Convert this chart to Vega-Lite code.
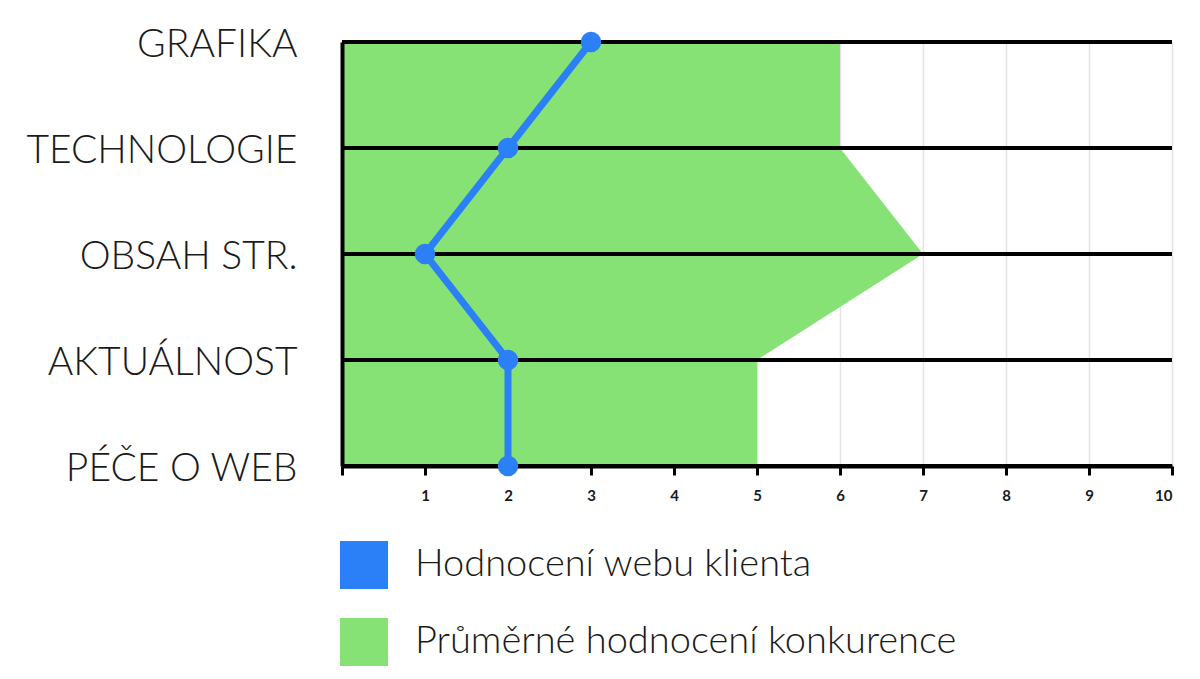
{
  "$schema": "https://vega.github.io/schema/vega-lite/v6.json",
  "autosize": {"type": "none"},
  "padding": {"left": 342, "top": 42, "right": 28, "bottom": 213},
  "width": 830,
  "height": 424,
  "background": "white",
  "config": {"view": {"stroke": null}, "font": "Lato"},
  "data": {
    "values": [
      {"kategorie": "GRAFIKA", "rank": 4, "klient": 3, "konkurence": 6},
      {"kategorie": "TECHNOLOGIE", "rank": 3, "klient": 2, "konkurence": 6},
      {"kategorie": "OBSAH STR.", "rank": 2, "klient": 1, "konkurence": 7},
      {"kategorie": "AKTUÁLNOST", "rank": 1, "klient": 2, "konkurence": 5},
      {"kategorie": "PÉČE O WEB", "rank": 0, "klient": 2, "konkurence": 5}
    ]
  },
  "encoding": {
    "y": {
      "field": "rank",
      "type": "quantitative",
      "scale": {"domain": [0, 4], "nice": false, "zero": false},
      "axis": {
        "title": null,
        "values": [0, 1, 2, 3, 4],
        "labelExpr": "['PÉČE O WEB','AKTUÁLNOST','OBSAH STR.','TECHNOLOGIE','GRAFIKA'][datum.value]",
        "labelFont": "Lato",
        "labelFontWeight": 300,
        "labelFontSize": 39,
        "labelColor": "#1a1a1a",
        "labelPadding": 45,
        "labelBaseline": "middle",
        "labelOffset": 2,
        "labelLimit": 400,
        "ticks": false,
        "grid": false,
        "domain": true,
        "domainColor": "black",
        "domainWidth": 4,
        "zindex": 1
      }
    }
  },
  "layer": [
    {
      "mark": {"type": "area", "orient": "horizontal", "opacity": 1},
      "encoding": {
        "x": {
          "field": "konkurence",
          "type": "quantitative",
          "scale": {"domain": [0, 10], "nice": false},
          "axis": {
            "title": null,
            "values": [0, 1, 2, 3, 4, 5, 6, 7, 8, 9, 10],
            "format": "d",
            "labelExpr": "datum.value == 0 ? '' : datum.label",
            "labelFont": "Lato",
            "labelFontWeight": "bold",
            "labelFontSize": 15,
            "labelColor": "#1a1a1a",
            "labelPadding": 13,
            "tickColor": "black",
            "tickWidth": 3,
            "tickSize": 9,
            "domainColor": "black",
            "domainWidth": 4,
            "grid": true,
            "gridColor": "#e3e3e3",
            "gridWidth": 1.5
          }
        },
        "color": {
          "datum": "Průměrné hodnocení konkurence",
          "type": "nominal",
          "scale": {
            "domain": ["Hodnocení webu klienta", "Průměrné hodnocení konkurence"],
            "range": ["#2b7ff7", "#86e274"]
          },
          "legend": {
            "title": null,
            "orient": "none",
            "legendX": -2,
            "legendY": 499,
            "direction": "vertical",
            "padding": 0,
            "symbolType": "square",
            "symbolSize": 2304,
            "symbolStrokeWidth": 0,
            "symbolOpacity": 1,
            "labelFont": "Lato",
            "labelFontWeight": 300,
            "labelFontSize": 38,
            "labelColor": "#1a1a1a",
            "labelOffset": 27,
            "rowPadding": 29,
            "labelLimit": 800
          }
        }
      }
    },
    {
      "mark": {"type": "rule", "color": "black", "strokeWidth": 4},
      "encoding": {}
    },
    {
      "mark": {"type": "line", "color": "#2b7ff7", "strokeWidth": 7},
      "encoding": {
        "x": {"field": "klient", "type": "quantitative"},
        "order": {"field": "rank"}
      }
    },
    {
      "mark": {"type": "point", "filled": true, "size": 420, "opacity": 1},
      "encoding": {
        "x": {"field": "klient", "type": "quantitative"},
        "color": {"datum": "Hodnocení webu klienta", "type": "nominal"}
      }
    }
  ]
}
